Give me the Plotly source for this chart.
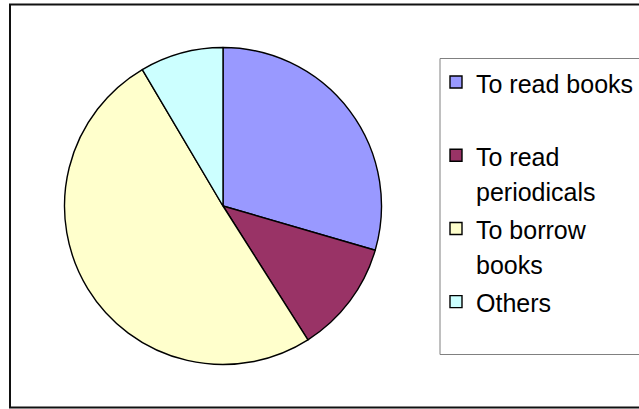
import plotly.graph_objects as go

# Reasons for visiting the library (share of respondents, %)
categories = ["To read books<br>&nbsp;", "To read<br>periodicals", "To borrow<br>books", "Others"]
values = [29.5, 11.5, 50.5, 8.5]
colors = ["#9999FF", "#993366", "#FFFFCC", "#CCFFFF"]

W, H = 639, 409
LABEL_PX = 25


def legend_label(text):
    # each line in its own span so the glyphs stay at LABEL_PX while the
    # legend font size drives the line spacing
    return "<br>".join(
        f"<span style='font-size:{LABEL_PX}px'>{part}</span>" for part in text.split("<br>")
    )


fig = go.Figure(
    go.Pie(
        labels=[legend_label(c) for c in categories],
        values=values,
        sort=False,
        direction="clockwise",
        rotation=0,
        textinfo="none",
        hoverinfo="percent",
        marker=dict(colors=colors, line=dict(color="#000000", width=1.4)),
        domain=dict(x=[64.5 / W, 381.5 / W], y=[1 - 364.5 / H, 1 - 47.5 / H]),
    )
)

fig.update_layout(
    width=W,
    height=H,
    margin=dict(l=0, r=0, t=0, b=0),
    paper_bgcolor="white",
    plot_bgcolor="white",
    font=dict(family="Liberation Sans, Arial, sans-serif", color="#000000"),
    showlegend=True,
    legend=dict(
        x=436 / W,
        y=1 - 58 / H,
        xanchor="left",
        yanchor="top",
        valign="top",
        font=dict(size=27, color="#000000"),
        bgcolor="rgba(0,0,0,0)",
        borderwidth=0,
        traceorder="normal",
    ),
    shapes=[
        # outer chart frame
        dict(type="rect", xref="paper", yref="paper",
             x0=10 / W, x1=660 / W, y0=1 - 407.5 / H, y1=1 - 4.5 / H,
             line=dict(color="#111111", width=2), fillcolor="rgba(0,0,0,0)"),
        # legend box
        dict(type="rect", xref="paper", yref="paper",
             x0=440 / W, x1=660 / W, y0=1 - 354.5 / H, y1=1 - 58.5 / H,
             line=dict(color="#808080", width=1), fillcolor="rgba(0,0,0,0)"),
    ],
)

fig.write_html("out.html")
